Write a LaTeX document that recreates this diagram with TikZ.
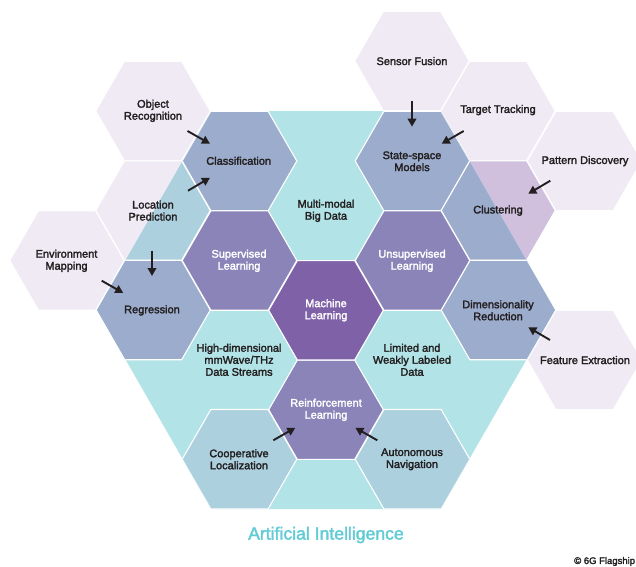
\documentclass[tikz,border=0pt]{standalone}
\usepackage{fontspec}
\setmainfont[FakeBold=2.2]{Liberation Sans}
\usetikzlibrary{arrows.meta}
\definecolor{teal1}{HTML}{B2E4E7}
\definecolor{blue1}{HTML}{9CACCC}
\definecolor{purple1}{HTML}{8B84B9}
\definecolor{purple2}{HTML}{7F61A8}
\definecolor{lilac1}{HTML}{EFEAF4}
\definecolor{lilac2}{HTML}{D0C0DE}
\definecolor{lblue}{HTML}{ACD0DE}
\definecolor{ink}{HTML}{231F20}
\definecolor{titlec}{HTML}{62CBD5}
\newcommand{\hexat}[3]{\path[hexcell,fill=#3] (#1-57.3,#2) -- (#1-28.65,#2-49.7) -- (#1+28.65,#2-49.7) -- (#1+57.3,#2) -- (#1+28.65,#2+49.7) -- (#1-28.65,#2+49.7) -- cycle;}
\tikzset{
  hexcell/.style={draw=white,line width=1.1pt,line join=miter},
  lab/.style={font=\fontsize{11}{12}\selectfont,text=ink,align=center,inner sep=0pt},
  labw/.style={lab,text=white},
  arr/.style={draw=ink,line width=1.9pt,-{Triangle[length=8pt,width=8.5pt]},shorten >=0pt}
}
\begin{document}
\begin{tikzpicture}[x=1pt,y=-1pt]
\useasboundingbox (0,0) rectangle (636,566);
% outer hexagons
\hexat{412}{61}{lilac1}
\hexat{498}{111}{lilac1}
\hexat{584.5}{161}{lilac1}
\hexat{153}{111}{lilac1}
\hexat{153}{210.5}{lilac1}
\hexat{67}{260.5}{lilac1}
\hexat{584.5}{360}{lilac1}
\hexat{498}{210.5}{lilac2}
% large hexagon
\def\bighex{(97,310) -- (211.4,111) -- (440.6,111) -- (555,310) -- (440.6,509) -- (211.4,509) -- cycle}
\fill[teal1] \bighex;
\begin{scope}
\clip \bighex;
\hexat{153}{210.5}{lblue}
\hexat{239.5}{459.2}{lblue}
\hexat{412.5}{459.2}{lblue}
\hexat{239.5}{161}{blue1}
\hexat{412.5}{161}{blue1}
\hexat{498.5}{210.5}{blue1}
\hexat{153}{310}{blue1}
\hexat{498.5}{310}{blue1}
\hexat{239.5}{260.5}{purple1}
\hexat{412.5}{260.5}{purple1}
\hexat{326}{409.7}{purple1}
\hexat{326}{310.3}{purple2}
\end{scope}
% labels
\node[lab] (obj) at (153,110.8) {Object\\Recognition};
\node[lab] (loc) at (153,210.6) {Location\\Prediction};
\node[lab] (env) at (66.5,260.8) {Environment\\Mapping};
\node[lab] (cls) at (238.7,160.8) {Classification};
\node[labw] (sup) at (239,260.8) {Supervised\\Learning};
\node[lab] (reg) at (152,310.4) {Regression};
\node[lab] (multi) at (326,210.8) {Multi-modal\\Big Data};
\node[lab] (state) at (412,161.3) {State-space\\Models};
\node[lab] (sensor) at (412,61.1) {Sensor Fusion};
\node[lab] (target) at (498,110.1) {Target Tracking};
\node[lab] (pattern) at (585,161.1) {Pattern Discovery};
\node[lab] (clu) at (498,210.6) {Clustering};
\node[labw] (unsup) at (412,260.8) {Unsupervised\\Learning};
\node[labw] (ml) at (326,310.3) {Machine\\Learning};
\node[lab] (dim) at (498,310.3) {Dimensionality\\Reduction};
\node[lab] (feat) at (585,360.1) {Feature Extraction};
\node[lab] (high) at (239,359.8) {High-dimensional\\mmWave/THz\\Data Streams};
\node[lab] (lim) at (412,359.8) {Limited and\\Weakly Labeled\\Data};
\node[labw] (rl) at (326,409.8) {Reinforcement\\Learning};
\node[lab] (coop) at (239,459.3) {Cooperative\\Localization};
\node[lab] (auto) at (412,459.3) {Autonomous\\Navigation};
\node[font=\fontsize{17.6}{20}\selectfont,text=titlec,inner sep=0pt] (title) at (326,535) {Artificial Intelligence};
\node[font=\fontsize{9.5}{11}\selectfont,text=ink,inner sep=0pt,anchor=west] (copy) at (574,561.5) {© 6G Flagship};
% arrow ends
\coordinate (a1s) at (187.5,131);   \coordinate (a1e) at (210,143.7);
\coordinate (a2s) at (188,190.7);   \coordinate (a2e) at (210,177.7);
\coordinate (a3s) at (152,250.7);   \coordinate (a3e) at (152,276);
\coordinate (a4s) at (101.7,280.7); \coordinate (a4e) at (123.3,293);
\coordinate (a5s) at (412,101);     \coordinate (a5e) at (412,126.7);
\coordinate (a6s) at (463.7,131);   \coordinate (a6e) at (441.7,143.7);
\coordinate (a7s) at (550.3,180.7); \coordinate (a7e) at (528.3,193.7);
\coordinate (a8s) at (550,340);     \coordinate (a8e) at (528.3,327.3);
\coordinate (a9s) at (377.3,440.3); \coordinate (a9e) at (355.3,427.7);
\coordinate (a10s) at (273.3,440.3);\coordinate (a10e) at (295.3,427.7);
\foreach \n in {1,...,10} \draw[arr] (a\n s) -- (a\n e);
\end{tikzpicture}
\end{document}
